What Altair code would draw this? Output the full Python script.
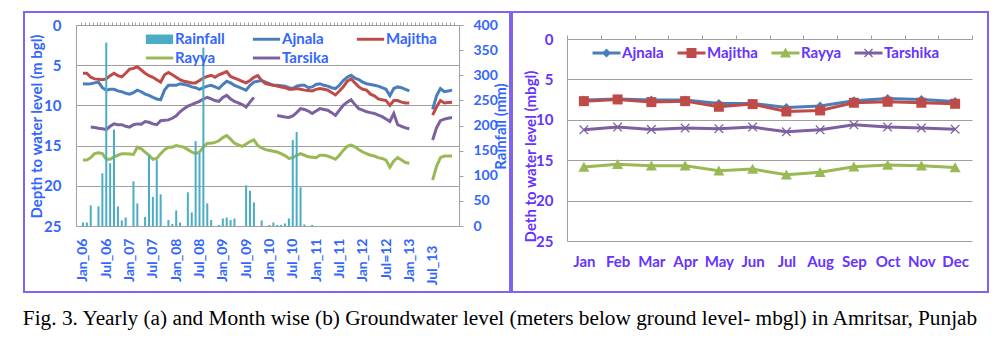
import altair as alt
import pandas as pd

# ---------------- data: yearly (a) ----------------
MONTH_INDEX = list(range(96))  # 0 = Jan 2006 ... 95 = Dec 2013
N = None
AJNALA = [7.3, 7.35, 7.3, 7.2, 7.1, 7.8, 8.1, 8.0, 8.0, 8.2, 8.3, 8.5,
          8.6, 8.4, 8.1, 8.3, 8.6, 8.75, 9.0, 9.2, 9.3, 8.1, 7.5, 7.5,
          7.5, 7.3, 7.4, 7.5, 7.7, 7.8, 8.0, 7.8, 7.6, 7.5, 7.7, 7.9,
          7.4, 7.0, 7.2, 7.5, 7.7, 7.9, 8.1, 7.5, 7.1, 7.0, 6.9, 7.1,
          7.3, 7.5, 7.5, 7.55, 7.6, 7.8, 7.9, 7.6, 7.5, 7.5, 7.8, 7.7,
          7.4, 7.3, 7.5, 7.6, 7.8, 7.9, 7.5, 6.9, 6.5, 6.25, 6.6, 6.8,
          7.1, 7.3, 7.4, 7.5, 7.6, 7.8, 8.0, 8.8, 7.9, 7.7, 7.8, 8.0,
          8.2, N, N, N, N, N, 10.5, 8.8, 7.9, 8.3, 8.2, 8.1]
MAJITHA = [6.0, 6.0, 6.5, 6.7, 6.75, 6.8, 6.7, 6.3, 6.0, 6.3, 6.45, 6.0,
           5.5, 5.4, 5.2, 5.6, 6.0, 6.3, 6.5, 6.8, 7.1, 6.2, 5.9, 6.2,
           6.5, 6.8, 7.0, 7.1, 7.2, 7.2, 6.9, 6.6, 6.4, 6.25, 6.5, 6.2,
           6.0, 5.8, 6.4, 6.6, 6.8, 7.0, 7.2, 6.9, 6.5, 6.3, 6.9, 7.3,
           7.4, 7.5, 7.6, 7.7, 7.8, 8.0, 8.0, 7.9, 8.0, 8.1, 8.15, 8.2,
           8.0, 7.9, 8.0, 8.1, 8.4, 8.7, 8.2, 7.7, 7.0, 6.7, 7.2, 7.7,
           8.0, 8.1, 8.6, 8.8, 9.2, 9.3, 9.4, 10.0, 9.4, 9.4, 9.6, 9.7,
           9.7, N, N, N, N, N, 11.2, 10.2, 9.4, 9.7, 9.65, 9.6]
RAYYA = [16.8, 16.8, 16.5, 16.0, 15.9, 16.0, 16.7, 16.7, 16.4, 16.2, 16.0, 16.0,
         16.05, 16.1, 15.2, 15.4, 15.8, 16.2, 16.7, 16.6, 16.0, 15.5, 15.2, 15.2,
         15.0, 15.1, 15.2, 15.5, 15.8, 16.0, 15.8, 15.2, 14.7, 14.7, 14.6, 14.4,
         14.0, 13.75, 14.2, 14.7, 14.9, 15.1, 14.8, 14.5, 14.3, 15.0, 15.3, 15.5,
         15.6, 15.7, 15.8, 16.0, 16.25, 16.6, 16.5, 16.2, 16.0, 16.2, 16.4, 16.45,
         16.5, 16.2, 16.2, 16.3, 16.5, 16.7, 16.2, 15.6, 15.1, 14.95, 15.15, 15.5,
         15.8, 16.0, 16.2, 16.3, 16.5, 16.6, 16.8, 17.7, 16.9, 16.5, 16.8, 17.1,
         17.2, N, N, N, N, N, 19.3, 17.6, 16.5, 16.3, 16.3, 16.3]
TARSIKA = [N, N, 12.7, 12.75, 12.85, 12.9, 13.0, 12.6, 12.3, 12.4, 12.4, 12.6,
           12.7, 12.4, 12.3, 12.35, 12.0, 12.1, 12.3, 12.4, 11.9, 11.85, 11.8, 11.6,
           11.3, 10.8, 10.4, 10.1, 9.9, 9.7, 9.5, 9.2, 9.0, 9.2, 9.4, 9.5,
           9.0, 8.75, 9.2, 9.5, 9.7, 9.9, 10.2, 9.6, 9.0, N, N, N,
           N, N, 11.25, 11.35, 11.45, 11.5, 11.3, 10.9, 10.4, 10.5, 10.7, 11.0,
           10.7, 10.4, 10.5, 10.6, 10.9, 11.25, 10.6, 10.0, 9.6, 9.3, 9.9, 10.4,
           10.6, 10.8, 10.9, 11.0, 11.2, 11.4, 11.7, 12.0, 11.0, 12.4, 12.6, 12.8,
           12.9, N, N, N, N, N, 14.3, 12.8, 11.9, 11.7, 11.6, 11.5]
RAINFALL = [7, 7, 41, 0, 39, 105, 365, 125, 192, 39, 11, 17,
            0, 89, 45, 0, 18, 141, 58, 131, 63, 0, 12, 4,
            31, 7, 0, 67, 27, 169, 145, 355, 45, 12, 0, 2,
            15, 17, 12, 15, 0, 0, 81, 70, 47, 0, 11, 0,
            2, 7, 2, 2, 5, 15, 171, 187, 77, 3, 0, 2,
            0, 0, 0, 0, 0, 0, 0, 0, 0, 0, 0, 0,
            0, 0, 0, 0, 0, 0, 0, 0, 0, 0, 0, 0,
            0, 0, 0, 0, 0, 0, 0, 0, 0, 0, 0, 0]
YEAR_TICK_LABELS = ["Jan_06", "Jul_06", "Jan_07", "Jul_07", "Jan_08", "Jul_08",
                    "Jan_09", "Jul_09", "Jan_10", "Jul_10", "Jan_11", "Jul_11",
                    "Jan_12", "Jul=12", "Jan_13", "Jul_13"]
YEAR_SERIES = ["Ajnala", "Majitha", "Rayya", "Tarsika"]
LEG_L_NAMES = ["Rainfall", "Ajnala", "Majitha", "Rayya", "Tarsika"]

# ---------------- data: month wise (b) ----------------
MONTHS = ["Jan", "Feb", "Mar", "Apr", "May", "Jun", "Jul", "Aug", "Sep", "Oct", "Nov", "Dec"]
M_AJNALA = [7.56, 7.44, 7.56, 7.56, 7.98, 7.98, 8.47, 8.3, 7.64, 7.36, 7.48, 7.73]
M_MAJITHA = [7.69, 7.48, 7.81, 7.69, 8.39, 8.06, 8.97, 8.84, 7.89, 7.77, 7.89, 8.02]
M_RAYYA = [15.83, 15.5, 15.7, 15.7, 16.3, 16.1, 16.8, 16.5, 15.8, 15.6, 15.7, 15.9]
M_TARSHIKA = [11.24, 10.9, 11.2, 11.03, 11.1, 10.9, 11.49, 11.24, 10.62, 10.9, 11.03, 11.16]
MONTH_SERIES = ["Ajnala", "Majitha", "Rayya", "Tarshika"]

CAPTION = ("Fig. 3. Yearly (a) and Month wise (b) Groundwater level "
           "(meters below ground level- mbgl) in Amritsar, Punjab")

# ---------------- styles ----------------
C_AJ, C_MA, C_RA, C_TA, C_RAIN = "#4a7ebb", "#be4b48", "#98b954", "#7d60a0", "#4bacc6"
BLUE = "#3366ff"
VIOLET = "#6633ff"
GRID = "#a0a0a0"
FRAME = "#8064f0"
FONT = "Lato"

# ---------------- long tables ----------------
rows = []
for name, vals in zip(YEAR_SERIES, [AJNALA, MAJITHA, RAYYA, TARSIKA]):
    seg = 0
    for m, v in zip(MONTH_INDEX, vals):
        if v is None:
            seg += 1
            continue
        rows.append({"month": m, "series": name, "seg": f"{name}-{seg}", "depth": v})
df_year = pd.DataFrame(rows)
df_rain = pd.DataFrame({"month": MONTH_INDEX, "rain": RAINFALL})
df_rain = df_rain[df_rain["rain"] > 0]

mrows = []
for name, vals in zip(MONTH_SERIES, [M_AJNALA, M_MAJITHA, M_RAYYA, M_TARSHIKA]):
    for i, v in enumerate(vals):
        mrows.append({"month": i + 1, "series": name, "depth": v})
df_month = pd.DataFrame(mrows)


def x_path(a, d, cx=0.0):
    pts = [(-a, -a + d), (-a + d, -a), (0, -d), (a - d, -a), (a, -a + d), (d, 0),
           (a, a - d), (a - d, a), (0, d), (-a + d, a), (-a, a - d), (-d, 0)]
    return "M" + "L".join(f"{x + cx:.3f},{y:.3f}" for x, y in pts) + "Z"


def frame(x1, x2, y1, y2):
    return alt.Chart(alt.Data(values=[{"k": 0}])).mark_rect(
        fill="white", fillOpacity=0, stroke=FRAME, strokeWidth=2, clip=False
    ).encode(x=alt.value(x1), x2=alt.value(x2), y=alt.value(y1), y2=alt.value(y2))


# ================= left panel =================
W_L, H_L = 383, 201
xs_l = alt.Scale(domain=[-0.5, 95.5], nice=False, zero=False)
lab_arr = "[" + ",".join(f"'{t}'" for t in YEAR_TICK_LABELS) + "]"

lines_l = alt.Chart(df_year).mark_line(strokeWidth=3).encode(
    x=alt.X("month:Q", scale=xs_l, axis=alt.Axis(
        orient="bottom", values=list(range(0, 96, 6)),
        labelExpr=f"{lab_arr}[round(datum.value/6)]",
        labelAngle=270, labelAlign="right", labelBaseline="middle",
        labelPadding={"condition": {"test": "datum.value == 90", "value": 19}, "value": 12},
        ticks=False, domain=False, grid=False, labelFontSize=14, labelColor=BLUE,
        labelFont=FONT, labelFontWeight="bold", title=None)),
    y=alt.Y("depth:Q", scale=alt.Scale(domain=[0, 25], reverse=True, nice=False, zero=False),
            axis=alt.Axis(orient="left", values=[0, 5, 10, 15, 20, 25], grid=True,
                          gridColor=GRID, domainColor=GRID, ticks=False, tickSize=0,
                          labelPadding=15, labelFontSize=15, labelColor=BLUE,
                          labelFont=FONT, labelFontWeight="bold",
                          title="Depth to water level (m bgl)", titleX=-40, titleY=101,
                          titleAngle=270, titleAlign="center", titleBaseline="middle",
                          titleFontSize=15, titleColor=BLUE, titleFont=FONT,
                          titleFontWeight="bold")),
    color=alt.Color("series:N", scale=alt.Scale(domain=YEAR_SERIES,
                    range=[C_AJ, C_MA, C_RA, C_TA]), legend=None),
    detail="seg:N",
)

bars_l = alt.Chart(df_rain).mark_bar(size=2, color=C_RAIN).encode(
    x=alt.X("month:Q", scale=xs_l, axis=alt.Axis(
        orient="top", values=[i - 0.5 for i in range(97)], labels=False, ticks=True,
        tickSize=3, tickColor=GRID, domainColor=GRID, grid=False, title=None)),
    y=alt.Y("rain:Q", scale=alt.Scale(domain=[0, 400], nice=False),
            axis=alt.Axis(orient="right", values=list(range(0, 401, 50)), grid=False,
                          ticks=True, tickSize=4, tickColor=GRID, domainColor=GRID,
                          labelPadding=10, labelFontSize=14, labelColor=BLUE,
                          labelFont=FONT, labelFontWeight="bold",
                          title="Rainfall (mm)", titleAngle=270, titleX=41, titleY=101,
                          titleAlign="center", titleBaseline="middle", titleFontSize=15,
                          titleColor=BLUE, titleFont=FONT, titleFontWeight="bold")),
)

LINE_L = "M-1.3,-0.14H1.3V0.14H-1.3Z"
leg_paths_l = ["M-1.3,-0.45H1.3V0.45H-1.3Z", LINE_L, LINE_L, LINE_L, LINE_L]
legend_l = alt.Legend(orient="none", legendX=73, legendY=3.5, direction="horizontal",
                      columns=3, symbolSize=441, symbolStrokeWidth=0, symbolOpacity=1,
                      labelFont=FONT, labelFontSize=15, labelFontWeight="bold",
                      labelColor=BLUE, labelOffset=5, columnPadding=27, rowPadding=0,
                      gridAlign="each", title=None, padding=0)
leg_l = alt.Chart(df_year).mark_point(filled=True, opacity=1).transform_filter("false").encode(
    shape=alt.Shape("series:N", scale=alt.Scale(domain=LEG_L_NAMES, range=leg_paths_l),
                    legend=legend_l),
    color=alt.Color("series:N", scale=alt.Scale(domain=LEG_L_NAMES,
                    range=[C_RAIN, C_AJ, C_MA, C_RA, C_TA]), legend=legend_l),
)

left = alt.layer(frame(-52, 434, -13, 267), lines_l, bars_l, leg_l).resolve_scale(
    y="independent", color="independent", shape="independent").resolve_axis(
    x="independent", y="independent").properties(width=W_L, height=H_L)

# ================= right panel =================
# plot origin shares the left panel's top; the value axis starts 14 px lower
W_R, H_R = 405, 216
Y_TOP = 14
xs_r = alt.Scale(domain=[0.5, 12.5], nice=False, zero=False)
ys_r = alt.Scale(domain=[0, 25], range=[Y_TOP, H_R], nice=False, zero=False)
mon_arr = "[" + ",".join(f"'{t}'" for t in MONTHS) + "]"
yaxis_r = alt.Axis(orient="left", values=[0, 5, 10, 15, 20, 25], grid=True, gridColor=GRID,
                   domainColor=GRID, ticks=False, tickSize=0, labelPadding=14,
                   labelFontSize=15, labelColor=VIOLET, labelFont=FONT,
                   labelFontWeight="bold", title="Deth to water level (mbgl)",
                   titleX=-37, titleY=131, titleAngle=270, titleAlign="center",
                   titleBaseline="middle", titleFontSize=15, titleColor=VIOLET,
                   titleFont=FONT, titleFontWeight="bold")
col_r = alt.Color("series:N", scale=alt.Scale(domain=MONTH_SERIES,
                  range=[C_AJ, C_MA, C_RA, C_TA]), legend=None)

lines_r = alt.Chart(df_month).mark_line(strokeWidth=3).encode(
    x=alt.X("month:Q", scale=xs_r, axis=alt.Axis(
        orient="bottom", values=list(range(1, 13)),
        labelExpr=f"{mon_arr}[datum.value-1]", labelAngle=0, ticks=False, domain=False,
        grid=False, labelPadding=13, labelFontSize=15, labelColor=VIOLET,
        labelFont=FONT, labelFontWeight="bold", title=None)),
    y=alt.Y("depth:Q", scale=ys_r, axis=yaxis_r),
    color=col_r,
)

marker_paths = ["M0,-0.9L0.9,0L0,0.9L-0.9,0Z", "M-1,-1H1V1H-1Z",
                "M0,-1.05L1.1,0.95H-1.1Z", x_path(0.95, 0.18)]
points_r = alt.Chart(df_month).mark_point(filled=True, opacity=1, size=100).encode(
    x=alt.X("month:Q", scale=xs_r, axis=alt.Axis(
        orient="top", offset=-Y_TOP, values=[i + 0.5 for i in range(13)], labels=False,
        ticks=True, tickSize=4, tickColor=GRID, domainColor=GRID, grid=False, title=None)),
    y=alt.Y("depth:Q", scale=ys_r, axis=yaxis_r),
    color=col_r,
    shape=alt.Shape("series:N", scale=alt.Scale(domain=MONTH_SERIES, range=marker_paths),
                    legend=None),
)

LINE_R = "M-1.4,-0.15H1.4V0.15H-1.4Z"
leg_paths_r = [LINE_R + "M0,-0.45L0.45,0L0,0.45L-0.45,0Z",
               LINE_R + "M-0.5,-0.5H0.5V0.5H-0.5Z",
               LINE_R + "M0,-0.55L0.55,0.45H-0.55Z",
               LINE_R + x_path(0.45, 0.09)]
legend_r = alt.Legend(orient="none", legendX=29.5, legendY=18, direction="horizontal",
                      columns=4, symbolSize=400, symbolStrokeWidth=0, symbolOpacity=1,
                      labelFont=FONT, labelFontSize=15, labelFontWeight="bold",
                      labelColor=VIOLET, labelOffset=5.5, columnPadding=13, rowPadding=0,
                      gridAlign="each", title=None, padding=0)
leg_r = alt.Chart(df_month).mark_point(filled=True, opacity=1).transform_filter("false").encode(
    shape=alt.Shape("series:N", scale=alt.Scale(domain=MONTH_SERIES, range=leg_paths_r),
                    legend=legend_r),
    color=alt.Color("series:N", scale=alt.Scale(domain=MONTH_SERIES,
                    range=[C_AJ, C_MA, C_RA, C_TA]), legend=legend_r),
)

right = alt.layer(frame(-55, 421, -13, 267), lines_r, points_r, leg_r).resolve_scale(
    shape="independent", color="independent").resolve_axis(x="independent").properties(
    width=W_R, height=H_R)

chart = alt.hconcat(left, right, spacing=0).resolve_scale(
    color="independent", shape="independent").properties(
    title=alt.TitleParams(text=CAPTION, orient="bottom", anchor="middle",
                          font="Liberation Serif", fontSize=21.3, fontWeight="normal",
                          color="black", offset=15, dx=-6),
    padding={"left": 21, "top": 11, "right": 0, "bottom": 0},
    background="white",
).configure_view(stroke=None)

chart.save("out.html", embed_options={"renderer": "svg", "actions": False})
